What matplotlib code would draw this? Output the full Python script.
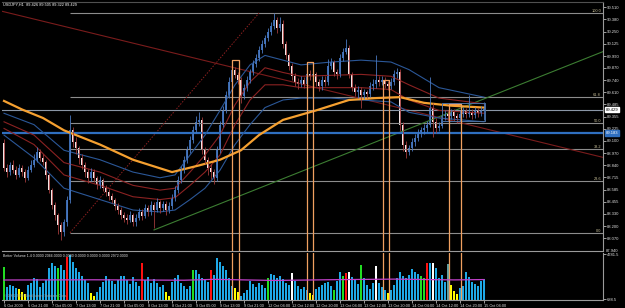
import numpy as np
import matplotlib
matplotlib.use('Agg')
import matplotlib.pyplot as plt

plt.rcParams['font.family'] = ['Liberation Sans Narrow', 'Liberation Sans', 'DejaVu Sans']

# USDJPY H1 candles (prices)
first_open = 89.08
closes = [88.81, 88.77, 88.84, 88.79, 88.74, 88.81, 88.77, 88.71, 88.79, 88.84,
          88.90, 88.98, 88.92, 88.88, 88.74, 88.58, 88.42, 88.32, 88.21, 88.14,
          88.24, 88.48, 89.21, 89.09, 89.02, 88.92, 88.84, 88.77, 88.71, 88.77,
          88.71, 88.63, 88.69, 88.60, 88.56, 88.52, 88.48, 88.41, 88.37, 88.32,
          88.29, 88.27, 88.32, 88.24, 88.29, 88.35, 88.31, 88.39, 88.35, 88.42,
          88.37, 88.45, 88.39, 88.43, 88.37, 88.41, 88.50, 88.58, 88.69, 88.79,
          88.90, 89.00, 89.11, 89.21, 89.30, 89.32, 89.00, 88.90, 88.81, 88.77,
          88.71, 89.00, 89.27, 89.42, 89.58, 89.72, 89.85, 89.79, 89.74, 89.57,
          89.66, 89.74, 89.82, 89.91, 89.97, 90.06, 90.12, 90.18, 90.25, 90.31,
          90.37, 90.29, 90.33, 90.12, 90.00, 89.89, 89.78, 89.72, 89.70, 89.74,
          89.70, 89.80, 89.78, 89.80, 89.72, 89.68, 89.74, 89.72, 89.89, 89.93,
          89.82, 89.80, 89.97, 90.04, 90.08, 89.80, 89.66, 89.61, 89.64, 89.58,
          89.61, 89.59, 89.68, 89.70, 89.74, 89.72, 89.74, 89.70, 89.68, 89.72,
          89.80, 89.82, 89.27, 89.06, 88.98, 89.02, 89.09, 89.13, 89.18, 89.21,
          89.23, 89.27, 89.45, 89.30, 89.23, 89.26, 89.36, 89.38, 89.36, 89.40,
          89.36, 89.34, 89.38, 89.42, 89.38, 89.40, 89.37, 89.42, 89.39, 89.426,
          89.429]
highs = [89.12, 88.86, 88.88, 88.90, 88.83, 88.85, 88.84, 88.80, 88.83, 88.90,
         88.96, 89.03, 89.01, 88.96, 88.90, 88.76, 88.60, 88.45, 88.34, 88.24,
         88.28, 88.52, 89.37, 89.25, 89.14, 89.05, 88.96, 88.88, 88.80, 88.81,
         88.80, 88.73, 88.73, 88.71, 88.63, 88.59, 88.55, 88.50, 88.44, 88.40,
         88.35, 88.33, 88.36, 88.34, 88.33, 88.39, 88.38, 88.43, 88.42, 88.46,
         88.45, 88.50, 88.48, 88.47, 88.46, 88.45, 88.54, 88.62, 88.73, 88.83,
         88.94, 89.05, 89.15, 89.26, 89.36, 89.40, 89.35, 89.03, 88.93, 88.85,
         88.80, 89.04, 89.31, 89.47, 89.63, 89.77, 89.88, 89.88, 89.82, 89.77,
         89.70, 89.78, 89.86, 89.95, 90.01, 90.10, 90.16, 90.22, 90.29, 90.35,
         90.45, 90.40, 90.40, 90.37, 90.15, 90.03, 89.92, 89.81, 89.76, 89.78,
         89.77, 89.84, 89.85, 89.86, 89.83, 89.75, 89.78, 89.78, 89.96, 89.97,
         89.95, 89.86, 90.01, 90.08, 90.17, 90.11, 89.83, 89.70, 89.68, 89.67,
         89.65, 89.64, 89.72, 89.75, 90.00, 89.78, 89.78, 89.77, 89.73, 89.76,
         89.85, 89.87, 89.86, 89.30, 89.10, 89.06, 89.13, 89.17, 89.22, 89.25,
         89.28, 89.31, 89.77, 89.50, 89.34, 89.30, 89.40, 89.42, 89.41, 89.44,
         89.43, 89.39, 89.42, 89.46, 89.45, 89.58, 89.43, 89.46, 89.45, 89.47,
         89.505]
lows = [88.78, 88.72, 88.74, 88.76, 88.70, 88.72, 88.73, 88.67, 88.69, 88.77,
        88.82, 88.88, 88.89, 88.84, 88.70, 88.55, 88.38, 88.26, 88.12, 88.05,
        88.10, 88.20, 88.44, 89.03, 88.96, 88.86, 88.80, 88.72, 88.66, 88.68,
        88.67, 88.59, 88.60, 88.57, 88.52, 88.48, 88.44, 88.37, 88.33, 88.28,
        88.24, 88.22, 88.24, 88.20, 88.20, 88.26, 88.27, 88.29, 88.31, 88.32,
        88.18, 88.35, 88.34, 88.36, 88.32, 88.34, 88.38, 88.47, 88.55, 88.66,
        88.76, 88.87, 88.97, 89.08, 89.18, 89.26, 88.96, 88.85, 88.74, 88.70,
        88.64, 88.68, 88.97, 89.24, 89.39, 89.55, 89.69, 89.76, 89.70, 89.50,
        89.54, 89.63, 89.71, 89.79, 89.88, 89.94, 90.03, 90.09, 90.15, 90.22,
        90.28, 90.24, 90.26, 90.08, 89.96, 89.85, 89.74, 89.68, 89.65, 89.67,
        89.66, 89.67, 89.74, 89.75, 89.68, 89.63, 89.64, 89.68, 89.69, 89.86,
        89.78, 89.75, 89.77, 89.94, 90.01, 89.76, 89.62, 89.57, 89.55, 89.45,
        89.54, 89.55, 89.56, 89.64, 89.66, 89.68, 89.69, 89.66, 89.64, 89.65,
        89.69, 89.76, 89.20, 88.99, 88.92, 88.95, 88.99, 89.05, 89.10, 89.14,
        89.17, 89.19, 89.24, 89.14, 89.18, 89.20, 89.23, 89.32, 89.31, 89.33,
        89.31, 89.29, 89.31, 89.35, 89.34, 89.35, 89.33, 89.34, 89.35, 89.36,
        89.322]

# orange long moving average
ma_bars = [0, 6, 13, 20, 32, 43, 56, 65, 72, 79, 85, 93, 104, 115, 124, 132, 140, 149, 160]
ma_vals = [89.52, 89.43, 89.34, 89.21, 89.06, 88.90, 88.77, 88.84, 88.90, 89.00,
           89.16, 89.32, 89.42, 89.53, 89.55, 89.56, 89.50, 89.47, 89.45]

# channel lines
band_bars = [0, 10, 20, 32, 43, 52, 57, 62, 67, 72, 77, 82, 87, 93, 99, 109, 119, 129, 135, 145, 160]
band_up_blue = [89.39, 89.27, 89.00, 88.90, 88.77, 88.71, 88.74, 88.95, 89.16, 89.42, 89.69,
                89.90, 90.00, 89.95, 89.90, 89.93, 89.95, 89.93, 89.85, 89.66, 89.56]
band_up_red = [89.30, 89.16, 88.87, 88.77, 88.63, 88.58, 88.60, 88.77, 88.95, 89.16, 89.48,
               89.72, 89.87, 89.82, 89.78, 89.79, 89.80, 89.78, 89.69, 89.55, 89.49]
band_lo_red = [89.23, 89.06, 88.74, 88.63, 88.51, 88.48, 88.50, 88.63, 88.77, 88.95, 89.27,
               89.53, 89.69, 89.69, 89.66, 89.66, 89.66, 89.64, 89.53, 89.42, 89.39]
band_lo_blue = [89.16, 88.92, 88.60, 88.48, 88.37, 88.35, 88.37, 88.48, 88.60, 88.79, 89.06,
                89.27, 89.45, 89.53, 89.55, 89.55, 89.53, 89.51, 89.40, 89.34, 89.30]

# Better Volume
volumes = [3600, 1780, 1970, 1880, 1690, 1600, 1330, 1150, 1970, 2150,
           2600, 2510, 1780, 2150, 2420, 3510, 3970, 3700, 3510, 3790,
           3330, 4510, 4700, 4060, 3510, 3150, 2790, 2420, 2150, 1240,
           960, 1330, 1780, 2240, 2790, 2510, 2330, 2060, 2420, 2790,
           2790, 2420, 2060, 2690, 2240, 1880, 3970, 2420, 2690, 2150,
           2510, 2150, 1780, 1970, 1330, 960, 2240, 2600, 2880, 2150,
           1880, 1600, 1880, 3330, 3330, 2970, 2600, 2420, 2240, 3330,
           2880, 4420, 4060, 3700, 3330, 2600, 1880, 1690, 1330, 960,
           1240, 1510, 2330, 2060, 1780, 2150, 1970, 1690, 2600, 2970,
           2880, 2600, 2790, 2510, 2150, 1970, 3060, 2330, 1880, 1600,
           1780, 1510, 1240, 1060, 1600, 1780, 1970, 2150, 2240, 1880,
           1510, 2330, 3150, 2790, 3060, 3150, 2690, 2420, 2060, 3790,
           2600, 1970, 1600, 2150, 3700, 2150, 1780, 1510, 1240, 1510,
           1970, 2600, 3150, 2790, 2600, 2880, 3420, 3150, 2970, 2790,
           2600, 3970, 3970, 3970, 3510, 2600, 2880, 2240, 3880, 1970,
           1420, 1150, 1690, 1880, 3150, 2690, 2240, 2060, 1880, 2330,
           2510]
vol_colors = ("gbbbbyyybb" "bbbbbbbbgb" "brbbbbbbby" "ybbbbbbbbb" "bbbbbbrbbb"
              "bbbbyybbbb" "bbbgbbbbbr" "bbbbbbbyyb" "bbbbbbbbgb" "bbbbbbwbbb"
              "bbyybbbbbb" "gbbgrwbbbg" "bbbbwbbbyb" "bbbbbbbbbg" "grbwbbbbcy"
              "yybbbbbbbb" "b")
avg_bars = [0, 30, 60, 70, 90, 110, 130, 150, 160]
avg_vals = [2420, 2440, 2400, 2480, 2380, 2450, 2500, 2430, 2460]

price_ticks = [90.510, 90.380, 90.250, 90.125, 89.990, 89.870, 89.740, 89.610, 89.485, 89.355,
               89.225, 89.100, 88.970, 88.840, 88.715, 88.585, 88.455, 88.330, 88.200, 88.070]
date_bars = list(range(0, 161, 8))
date_labels = ["6 Oct 2009", "6 Oct 21:00", "7 Oct 05:00", "7 Oct 13:00", "7 Oct 21:00",
               "8 Oct 05:00", "8 Oct 13:00", "8 Oct 21:00", "9 Oct 05:00", "9 Oct 13:00",
               "9 Oct 21:00", "12 Oct 04:00", "12 Oct 12:00", "12 Oct 20:00", "13 Oct 04:00",
               "13 Oct 12:00", "13 Oct 20:00", "14 Oct 04:00", "14 Oct 12:00", "14 Oct 20:00",
               "15 Oct 04:00"]

fib_low, fib_high, fib_start = 88.13, 90.447, 22
fib_levels = [100.0, 61.8, 50.0, 38.2, 23.6, 0.0]
zones = [(76, 78.3, 89.95), (101, 103, 89.93), (126.3, 128.3, 89.74), (148.3, 152.3, 89.49)]
blue_level = 89.183

W, H = 625, 308
fig = plt.figure(figsize=(W / 100, H / 100), dpi=100, facecolor='black')

def rect(x0, y0, x1, y1):
    return [x0 / W, 1 - y1 / H, (x1 - x0) / W, (y1 - y0) / H]

ax = fig.add_axes(rect(2, 2, 603, 251), facecolor='black')
axv = fig.add_axes(rect(2, 253, 603, 300), facecolor='black', sharex=ax)
xmin, xmax = -0.67, 199.67
ax.set_xlim(xmin, xmax)
ax.set_ylim(87.938, 90.563)
axv.set_ylim(600, 4878)

fs = 3.0
txt = '#e0e0e0'
grid_c = '#8c8c8c'

# fib levels + lines
for lv in fib_levels:
    p = fib_low + lv / 100 * (fib_high - fib_low)
    ax.hlines(p, fib_start, xmax, color=grid_c, lw=0.8)
    ax.text(199, p, '%.1f' % lv, ha='right', va='bottom', fontsize=2.8, color='#c8bf98')
ax.plot([fib_start, 85], [fib_low, fib_high], color='#8b2020', lw=0.7, ls=(0, (1.5, 1.5)))

ax.axline((0, 90.46), (160, 89.23), color='#7a1c1c', lw=0.8)
gx = np.array([50, xmax])
ax.plot(gx, 88.16 + (gx - 50) * (90.04 - 88.16) / (199.67 - 50), color='#3c7d32', lw=0.8)

ax.axhline(blue_level, color='#2f6fc0', lw=1.6)
ax.axhline(closes[-1], color='#8a96a6', lw=0.8)

# channel and moving average
ax.plot(band_bars, band_up_blue, color='#2b5797', lw=0.8)
ax.plot(band_bars, band_lo_blue, color='#2b5797', lw=0.8)
ax.plot(band_bars, band_up_red, color='#8b2222', lw=0.8)
ax.plot(band_bars, band_lo_red, color='#8b2222', lw=0.8)
ax.plot(ma_bars, ma_vals, color='#f5a030', lw=1.6)

# candles
c = np.array(closes)
o = np.r_[first_open, c[:-1]]
idx = np.arange(len(c))
bull = c >= o
wick_col = np.where(bull, '#4a78c0', '#a03a3a')
body_col = np.where(bull, '#3d6cb0', '#f2e4e4')
ax.vlines(idx, lows, highs, colors=wick_col, lw=0.6)
ax.bar(idx, np.maximum(np.abs(c - o), 0.006), bottom=np.minimum(o, c), width=0.6,
       color=body_col, lw=0)

# blue box around last bars
ax.plot([146, 160.3, 160.3, 146, 146], [89.31, 89.31, 89.50, 89.50, 89.31], color='#4a6fa0', lw=0.7)

# orange zones through both panels
for x0, x1, top in zones:
    ax.plot([x0, x0, x1, x1], [87.938, top, top, 87.938], color='#f0a060', lw=0.9)
    axv.plot([x0, x0, x1, x1], [4878, 610, 610, 4878], color='#f0a060', lw=0.9)

# volume bars
cmap = {'b': '#1ea8e6', 'r': '#ff1010', 'g': '#22dd22', 'y': '#ffff00', 'w': '#ffffff', 'c': '#5f9ea0'}
axv.bar(idx, volumes, width=0.75, color=[cmap[k] for k in vol_colors], lw=0)
axv.plot(avg_bars, avg_vals, color='#c040c8', lw=0.9)

# axes styling
for a in (ax, axv):
    for s in a.spines.values():
        s.set_color('#9a9a9a')
        s.set_linewidth(0.8)
    a.spines['left'].set_visible(False)
    a.yaxis.tick_right()
    a.tick_params(axis='y', colors=txt, labelsize=fs, length=2, width=0.5, pad=1)
ax.spines['top'].set_color('#505050')
axv.spines['top'].set_visible(False)
ax.set_yticks(price_ticks)
ax.set_yticklabels(['%.3f' % p for p in price_ticks])
axv.set_yticks([688.5, 4781.5])
axv.set_yticklabels(['688.5', '4781.5'])
ax.tick_params(axis='x', bottom=False, labelbottom=False)
axv.set_xticks(date_bars)
axv.set_xticklabels(date_labels, ha='left')
axv.tick_params(axis='x', colors=txt, labelsize=2.8, length=2, width=0.5, pad=1)

ytr = ax.get_yaxis_transform()
ax.text(1.004, closes[-1], '%.3f' % closes[-1], transform=ytr, fontsize=fs, color='black',
        va='center', bbox=dict(boxstyle='square,pad=0.15', fc='white', ec='white'))
ax.text(1.004, blue_level, '%.3f' % blue_level, transform=ytr, fontsize=fs, color='white',
        va='center', bbox=dict(boxstyle='square,pad=0.15', fc='#2f6fc0', ec='#2f6fc0'))
ax.text(1.004, 87.94, '87.940', transform=ytr, fontsize=fs, color=txt, va='center')

fig.text(3 / W, 1 - 5 / H, 'USDJPY,H1  89.426 89.505 89.322 89.429', fontsize=2.8,
         color='white', va='center')
axv.text(0.002, 0.97, 'Better Volume 1.4 0.0000 2066.0000 0.0000 0.0000 0.0000 0.0000 2972.0000',
         transform=axv.transAxes, fontsize=2.6, color=txt, va='top')
axv.text(0.003, 0.04, '\u00a9 2001-2009 MetaQuotes Software Corp.', transform=axv.transAxes,
         fontsize=2.4, color='#a0a0a0', va='bottom')

fig.savefig('out.png', dpi=100, facecolor='black')
